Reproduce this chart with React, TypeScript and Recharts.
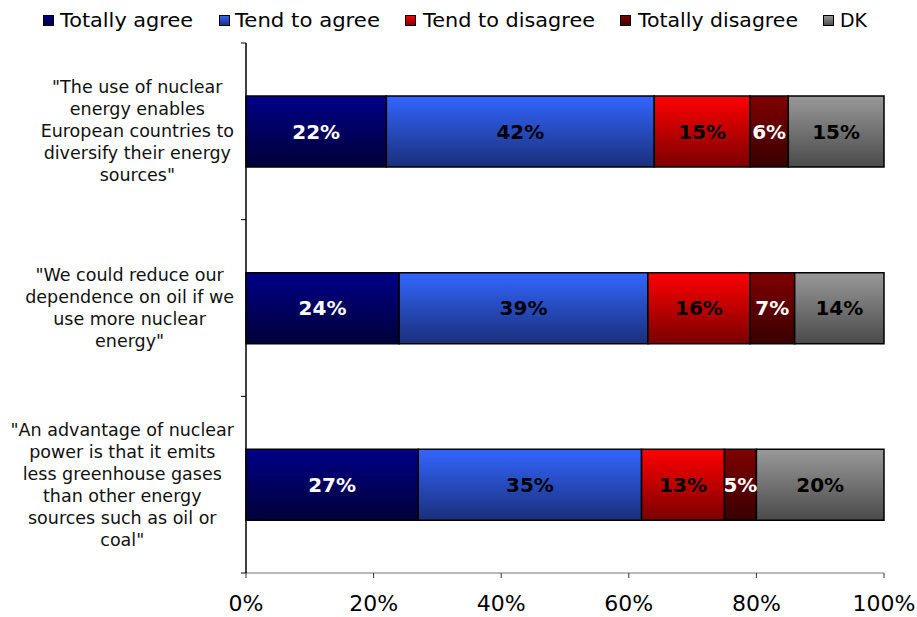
import React from 'react';
import { BarChart, Bar, XAxis, YAxis, LabelList } from 'recharts';

const statements = [
  '"The use of nuclear energy enables European countries to diversify their energy sources"',
  '"We could reduce our dependence on oil if we use more nuclear energy"',
  '"An advantage of nuclear power is that it emits less greenhouse gases than other energy sources such as oil or coal"',
];
// line breaks as they appear in the picture
const statementLines = [
  ['"The use of nuclear', 'energy enables', 'European countries to', 'diversify their energy', 'sources"'],
  ['"We could reduce our', 'dependence on oil if we', 'use more nuclear', 'energy"'],
  ['"An advantage of nuclear', 'power is that it emits', 'less greenhouse gases', 'than other energy', 'sources such as oil or', 'coal"'],
];

const totallyAgree = [22, 24, 27];
const tendToAgree = [42, 39, 35];
const tendToDisagree = [15, 16, 13];
const totallyDisagree = [6, 7, 5];
const dontKnow = [15, 14, 20];

const xTicks = [0, 20, 40, 60, 80, 100];

const series = [
  { key: 'ta', name: 'Totally agree', top: '#000088', bottom: '#000038', label: '#fff' },
  { key: 'tna', name: 'Tend to agree', top: '#3366ff', bottom: '#1a2f7a', label: '#000' },
  { key: 'tnd', name: 'Tend to disagree', top: '#ff0000', bottom: '#7a0000', label: '#000' },
  { key: 'td', name: 'Totally disagree', top: '#800000', bottom: '#380000', label: '#fff' },
  { key: 'dk', name: 'DK', top: '#999999', bottom: '#4a4a4a', label: '#000' },
];

const data = statements.map((s, i) => ({
  name: s,
  lines: statementLines[i],
  ta: totallyAgree[i],
  tna: tendToAgree[i],
  tnd: tendToDisagree[i],
  td: totallyDisagree[i],
  dk: dontKnow[i],
}));

// legend layout: swatch x, text x, text width
const legendPos = [
  { sx: 43, tx: 60, w: 133 },
  { sx: 219, tx: 235, w: 145 },
  { sx: 405, tx: 423, w: 172 },
  { sx: 620, tx: 638, w: 160 },
  { sx: 823, tx: 840, w: 27 },
];

const labelFont = 'Verdana, "DejaVu Sans", sans-serif';
const catFontSize = 17.5;

let measureCtx: CanvasRenderingContext2D | null = null;
const measure = (t: string) => {
  if (!measureCtx) {
    measureCtx = document.createElement('canvas').getContext('2d');
  }
  if (!measureCtx) return t.length * catFontSize * 0.55;
  measureCtx.font = `${catFontSize}px "DejaVu Sans"`;
  return measureCtx.measureText(t).width;
};

const CategoryTick = (props: any) => {
  const { x, y, payload, index } = props;
  const lines: string[] = data[index]?.lines || [payload.value];
  const half = payload.offset || 88.33;
  const lh = 22;
  const startY = y - ((lines.length - 1) * lh) / 2;
  // block is right-aligned near the axis, lines centred inside it
  const maxW = Math.max(...lines.map(measure));
  const cx = x - 12 - maxW / 2;
  return (
    <g>
      <line x1={x - 5} x2={x} y1={y - half} y2={y - half} stroke="#000" />
      {index === data.length - 1 && (
        <line x1={x - 5} x2={x} y1={y + half} y2={y + half} stroke="#000" />
      )}
      <text x={cx} y={startY} textAnchor="middle" fontFamily={labelFont} fontSize={catFontSize} fill="#111">
        {lines.map((l, i) => (
          <tspan key={i} x={cx} y={startY + i * lh} dy="0.35em">
            {l}
          </tspan>
        ))}
      </text>
    </g>
  );
};

export default function App() {
  return (
    <div style={{ position: 'absolute', left: 0, top: 0, width: 917, height: 617, background: '#fff' }}>
      <svg width={917} height={40} style={{ position: 'absolute', left: 0, top: 0 }}>
        <defs>
          {series.map((s) => (
            <linearGradient key={s.key} id={`lg-${s.key}`} x1="0" y1="0" x2="0" y2="1">
              <stop offset="0%" stopColor={s.top} />
              <stop offset="100%" stopColor={s.bottom} />
            </linearGradient>
          ))}
        </defs>
        {series.map((s, i) => (
          <g key={s.key}>
            <rect x={legendPos[i].sx + 0.5} y={15.5} width={10} height={10} fill={`url(#lg-${s.key})`} stroke="#000" strokeWidth={1} />
            <text
              x={legendPos[i].tx}
              y={27}
              fontFamily={labelFont}
              fontSize={19}
              fill="#000"
              textLength={legendPos[i].w}
              lengthAdjust="spacingAndGlyphs"
            >
              {s.name}
            </text>
          </g>
        ))}
      </svg>
      <BarChart
        width={917}
        height={617}
        data={data}
        layout="vertical"
        margin={{ top: 43, right: 33, bottom: 0, left: 0 }}
        barSize={71}
      >
        <defs>
          {series.map((s) => (
            <linearGradient key={s.key} id={`g-${s.key}`} x1="0" y1="0" x2="0" y2="1">
              <stop offset="0%" stopColor={s.top} />
              <stop offset="100%" stopColor={s.bottom} />
            </linearGradient>
          ))}
        </defs>
        <XAxis
          type="number"
          domain={[0, 100]}
          ticks={xTicks}
          tickFormatter={(v) => `${v}%`}
          height={44}
          axisLine={{ stroke: '#777' }}
          tickLine={{ stroke: '#333' }}
          tickSize={5}
          tickMargin={17}
          tick={{ fill: '#000', fontSize: 22, fontFamily: labelFont }}
          interval={0}
        />
        <YAxis
          type="category"
          dataKey="name"
          width={246}
          axisLine={{ stroke: '#000', strokeWidth: 1.5 }}
          tickLine={false}
          tickSize={0}
          tickMargin={0}
          tick={<CategoryTick />}
          interval={0}
        />
        {series.map((s) => (
          <Bar
            key={s.key}
            dataKey={s.key}
            name={s.name}
            stackId="a"
            fill={`url(#g-${s.key})`}
            stroke="#000"
            strokeWidth={1.5}
            isAnimationActive={false}
          >
            <LabelList
              dataKey={s.key}
              position="center"
              formatter={(v: any) => `${v}%`}
              fill={s.label}
              fontSize={20}
              fontWeight="bold"
              fontFamily={labelFont}
            />
          </Bar>
        ))}
      </BarChart>
    </div>
  );
}
